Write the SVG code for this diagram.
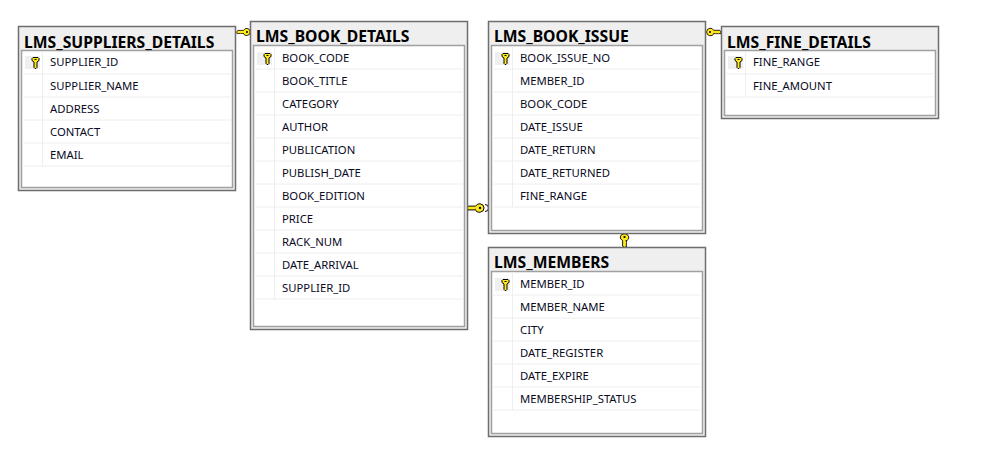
<svg xmlns="http://www.w3.org/2000/svg" xmlns:xlink="http://www.w3.org/1999/xlink" width="1003" height="466" viewBox="0 0 1003 466">
<style>
text{font-family:"Noto Sans","Open Sans","Liberation Sans",sans-serif;fill:#0a0a1e}
.t{font-size:15.700px;font-weight:700;fill:#000}
.c{font-size:11.300px}
.o{fill:#efefef;stroke:#6e6e6e;stroke-width:1.5}
.i{fill:#fff;stroke:#a0a0a0;stroke-width:1.5}
.r{stroke:#eeeeee;stroke-width:1;fill:none}
.kb{fill:#efefef}
.ky{fill:#ffe81a;stroke:#000;stroke-width:1}
</style>
<defs>
<g id="pk"><rect class="kb" x="-10" y="-6" width="15" height="13"/>
<path class="ky" d="M-3-3.500l1-1h5l1 1v2l-2 1.500v5.500l-1 1h-1l-1-1V0l-2-1.500z"/><path d="M-.5-2.500h2" stroke="#000"/></g>
<g id="fk"><path class="ky" d="M0-4.500a4.500 4.500 0 0 1 4.300 2.500H11.500L13 0l-1 2.500-1-1-1 1-1-1-1 1-1-1-1 1-1.200-1.200A4.500 4.500 0 1 1 0-4.500z"/><circle cx="0" cy="0" r="1.200" fill="#000"/></g>
</defs>
<rect width="1003" height="466" fill="#fff"/>
<g id="connectors">
<use xlink:href="#fk" href="#fk" transform="translate(247 32) scale(-.8 .8)"/>
<use xlink:href="#fk" href="#fk" transform="translate(480 208) scale(-1 .95)"/>
<path d="M485 204.500a3.500 3.500 0 0 1 0 7" fill="#fff" stroke="#000"/>
<use xlink:href="#fk" href="#fk" transform="translate(624.500 237) rotate(90) scale(.8 -.95)"/>
<use xlink:href="#fk" href="#fk" transform="translate(710 32) scale(.85)"/>
</g>
<g id="LMS_SUPPLIERS_DETAILS">
<rect class="o" x="18.500" y="26.500" width="217" height="164"/>
<rect class="i" x="21.500" y="50.500" width="211" height="137"/>
<path class="r" d="M22 74h210M22 97h210M22 120h210M22 143h210M22 166h210M42.500 51v115"/>
<use xlink:href="#pk" href="#pk" transform="translate(35 62)"/>
<text class="t" x="24" y="48">LMS_SUPPLIERS_DETAILS</text>
<text class="c" x="50" y="66">SUPPLIER_ID</text><text class="c" x="50" y="90">SUPPLIER_NAME</text><text class="c" x="50" y="113">ADDRESS</text><text class="c" x="50" y="136">CONTACT</text><text class="c" x="50" y="159">EMAIL</text>
</g>
<g id="LMS_BOOK_DETAILS">
<rect class="o" x="250.500" y="21.500" width="217" height="308"/>
<rect class="i" x="253.500" y="45.500" width="211" height="281"/>
<path class="r" d="M254 69h210M254 92h210M254 115h210M254 138h210M254 161h210M254 184h210M254 207h210M254 230h210M254 253h210M254 276h210M254 299h210M274.500 46v253"/>
<use xlink:href="#pk" href="#pk" transform="translate(267 58)"/>
<text class="t" x="256" y="42">LMS_BOOK_DETAILS</text>
<text class="c" x="282" y="62">BOOK_CODE</text><text class="c" x="282" y="85">BOOK_TITLE</text><text class="c" x="282" y="108">CATEGORY</text><text class="c" x="282" y="131">AUTHOR</text><text class="c" x="282" y="154">PUBLICATION</text><text class="c" x="282" y="177">PUBLISH_DATE</text><text class="c" x="282" y="200">BOOK_EDITION</text><text class="c" x="282" y="223">PRICE</text><text class="c" x="282" y="246">RACK_NUM</text><text class="c" x="282" y="269">DATE_ARRIVAL</text><text class="c" x="282" y="292">SUPPLIER_ID</text>
</g>
<g id="LMS_BOOK_ISSUE">
<rect class="o" x="488.500" y="21.500" width="217" height="212"/>
<rect class="i" x="491.500" y="45.500" width="211" height="185"/>
<path class="r" d="M492 69h210M492 92h210M492 115h210M492 138h210M492 161h210M492 184h210M492 207h210M512.500 46v161"/>
<use xlink:href="#pk" href="#pk" transform="translate(505 58)"/>
<text class="t" x="494" y="42">LMS_BOOK_ISSUE</text>
<text class="c" x="520" y="62">BOOK_ISSUE_NO</text><text class="c" x="520" y="85">MEMBER_ID</text><text class="c" x="520" y="108">BOOK_CODE</text><text class="c" x="520" y="131">DATE_ISSUE</text><text class="c" x="520" y="154">DATE_RETURN</text><text class="c" x="520" y="177">DATE_RETURNED</text><text class="c" x="520" y="200">FINE_RANGE</text>
</g>
<g id="LMS_FINE_DETAILS">
<rect class="o" x="721.500" y="26.500" width="217" height="92"/>
<rect class="i" x="724.500" y="50.500" width="211" height="65"/>
<path class="r" d="M725 74h210M725 97h210M745.500 51v46"/>
<use xlink:href="#pk" href="#pk" transform="translate(738 62)"/>
<text class="t" x="727" y="48">LMS_FINE_DETAILS</text>
<text class="c" x="753" y="66">FINE_RANGE</text><text class="c" x="753" y="90">FINE_AMOUNT</text>
</g>
<g id="LMS_MEMBERS">
<rect class="o" x="488.500" y="247.500" width="217" height="189"/>
<rect class="i" x="491.500" y="271.500" width="211" height="162"/>
<path class="r" d="M492 295h210M492 318h210M492 341h210M492 364h210M492 387h210M492 410h210M512.500 272v138"/>
<use xlink:href="#pk" href="#pk" transform="translate(505 284)"/>
<text class="t" x="494" y="268">LMS_MEMBERS</text>
<text class="c" x="520" y="288">MEMBER_ID</text><text class="c" x="520" y="311">MEMBER_NAME</text><text class="c" x="520" y="334">CITY</text><text class="c" x="520" y="357">DATE_REGISTER</text><text class="c" x="520" y="380">DATE_EXPIRE</text><text class="c" x="520" y="403">MEMBERSHIP_STATUS</text>
</g>
</svg>
